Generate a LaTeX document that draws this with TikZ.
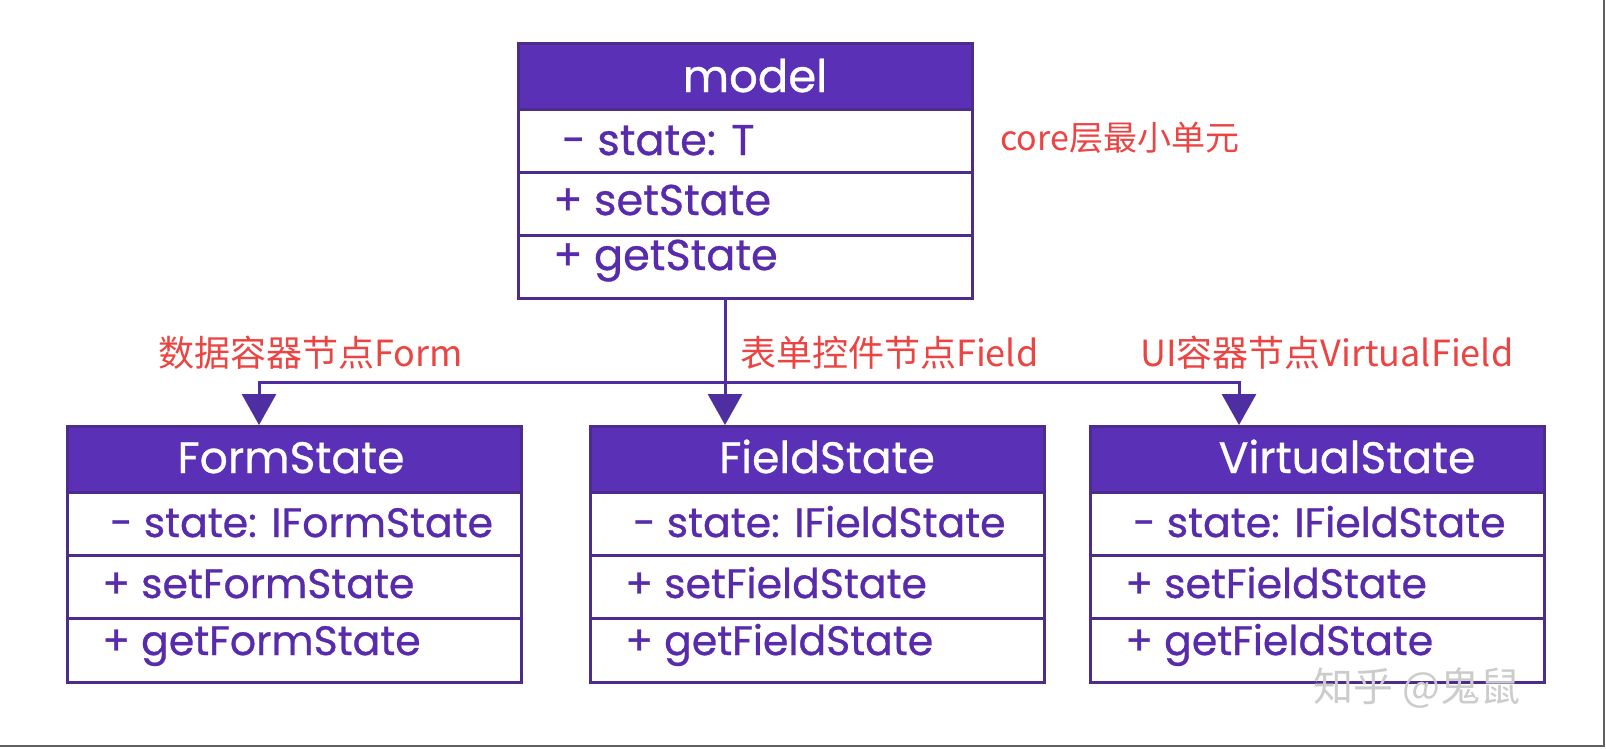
\documentclass[tikz,border=0pt]{standalone}
\usepackage{fontspec}
\setmainfont{Poppins}[FakeBold=0.7]
\newfontfamily\cjk{Noto Sans CJK SC}
\usetikzlibrary{arrows.meta,positioning,calc}
\definecolor{umlhead}{RGB}{90,48,182}
\definecolor{umlline}{RGB}{78,44,140}
\definecolor{umltext}{RGB}{88,42,172}
\definecolor{linkcol}{RGB}{78,46,160}
\definecolor{notered}{RGB}{236,68,66}

\begin{document}
\begin{tikzpicture}[x=1pt,y=-1pt,>={Triangle[length=31pt,width=34pt]},
  classbox/.style={draw=umlline, line width=3pt, fill=white, minimum width=454pt, minimum height=256pt, anchor=north west, inner sep=0pt, outer sep=0pt},
  headbox/.style={draw=umlline, line width=3pt, fill=umlhead, minimum width=454pt, minimum height=66pt, anchor=north west, inner sep=0pt, outer sep=0pt},
  sep/.style={draw=umlline, line width=3pt},
  title/.style={anchor=base, text=white, inner sep=0pt, font=\fontsize{44}{44}\selectfont},
  row/.style={anchor=base west, text=umltext, inner sep=0pt, font=\fontsize{41}{41}\selectfont},
  note/.style={anchor=west, text=notered, inner sep=0pt, font=\cjk\fontsize{36}{36}\selectfont},
  link/.style={draw=linkcol, line width=3pt}]
\useasboundingbox (0,0) rectangle (1606,748);
\fill[white] (0,0) rectangle (1606,748);
\draw[gray!75!black, line width=2.5pt] (0,746) -- (1604,746) -- (1604,0);

% core unit
\node[classbox, minimum height=255pt] (model) at (518,43) {};
\node[headbox] (modelhead) at (model.north west) {};
\draw[sep] ($(modelhead.south west)+(0,63)$) -- ++(454,0);
\draw[sep] ($(modelhead.south west)+(0,126)$) -- ++(454,0);
\node[title, font=\fontsize{45}{45}\selectfont] (modelname) at (755,92) {model};
\node[row, font=\fontsize{43}{43}\selectfont] (modelattr) at (562,155) {- state: T};
\node[row, font=\fontsize{43}{43}\selectfont] (modelset) at (553,215) {+ setState};
\node[row, font=\fontsize{43}{43}\selectfont] (modelget) at (553,270) {+ getState};
\node[note, font=\cjk\fontsize{34}{34}\selectfont] (corenote) at (1000,138) {core层最小单元};

% the three node kinds
\node[classbox] (form) at (67,426) {};
\node[headbox] (formhead) at (form.north west) {};
\draw[sep] ($(formhead.south west)+(0,63)$) -- ++(454,0);
\draw[sep] ($(formhead.south west)+(0,126)$) -- ++(454,0);
\node[title] (formname) at (291,473) {FormState};
\node[row] (formattr) at (110,537) {- state: IFormState};
\node[row] (formset) at (102,598) {+ setFormState};
\node[row] (formget) at (102,655) {+ getFormState};

\node[classbox] (field) at (590,426) {};
\node[headbox] (fieldhead) at (field.north west) {};
\draw[sep] ($(fieldhead.south west)+(0,63)$) -- ++(454,0);
\draw[sep] ($(fieldhead.south west)+(0,126)$) -- ++(454,0);
\node[title] (fieldname) at (827,473) {FieldState};
\node[row] (fieldattr) at (633,537) {- state: IFieldState};
\node[row] (fieldset) at (625,598) {+ setFieldState};
\node[row] (fieldget) at (625,655) {+ getFieldState};

\node[classbox] (virtual) at (1090,426) {};
\node[headbox] (virtualhead) at (virtual.north west) {};
\draw[sep] ($(virtualhead.south west)+(0,63)$) -- ++(454,0);
\draw[sep] ($(virtualhead.south west)+(0,126)$) -- ++(454,0);
\node[title] (virtualname) at (1347,473) {VirtualState};
\node[row] (virtualattr) at (1133,537) {- state: IFieldState};
\node[row] (virtualset) at (1125,598) {+ setFieldState};
\node[row] (virtualget) at (1125,655) {+ getFieldState};

% connectors
\coordinate (hub) at (725,382);
\coordinate (formin) at (259,425);
\coordinate (fieldin) at (725,425);
\coordinate (virtualin) at (1239,425);
\draw[link,->] (model.south -| hub) -- (fieldin);
\draw[link,->] (hub) -| (formin);
\draw[link,->] (hub) -| (virtualin);
\node[note] (formnote) at (158,353) {数据容器节点Form};
\node[note] (fieldnote) at (740,353) {表单控件节点Field};
\node[note] (virtualnote) at (1140,353) {UI容器节点VirtualField};

\node[anchor=west, text=gray!40, inner sep=0pt, font=\cjk\fontsize{40}{40}\selectfont] (mark) at (1313,688) {知乎 @鬼鼠};
\end{tikzpicture}
\end{document}
